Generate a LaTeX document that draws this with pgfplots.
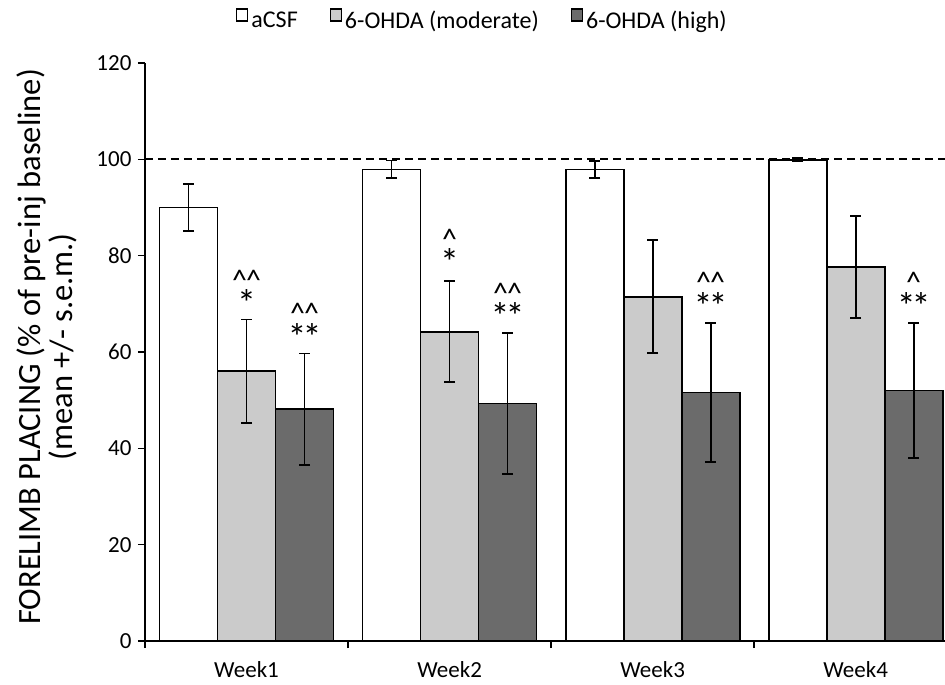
\documentclass[border=0pt]{standalone}
\usepackage{pgfplots}
\pgfplotsset{compat=1.18}
\usepackage{fontspec}
\setmainfont{Carlito}
\definecolor{modgray}{HTML}{CBCBCB}
\definecolor{highgray}{HTML}{6B6B6B}
\newcommand{\fs}[1]{\fontsize{#1}{#1}\selectfont}
\newcommand{\sig}[2]{\makebox[0pt][c]{\fs{38}#2}\makebox[0pt][c]{\raisebox{26.5pt}{\fs{30}#1}}}
\newcommand{\twocar}{\textasciicircum\kern-1pt\textasciicircum}
\newcommand{\twoast}{*\kern-4pt*}
\tikzset{sg/.style={anchor=base, inner sep=0pt}}
\begin{document}
\begin{tikzpicture}
\begin{axis}[
  scale only axis, width=800pt, height=578pt,
  xmin=-0.5, xmax=3.44, ymin=0, ymax=120,
  axis x line*=bottom, axis y line*=left,
  clip=false,
  ybar, bar width=0.2857,
  ytick={0,20,...,120},
  xtick={0,1,2,3}, xticklabels={Week1,Week2,Week3,Week4},
  major x tick style={draw=none},
  minor xtick={-0.5,0.5,1.5,2.5},
  tick align=outside,
  major tick length=7pt, minor tick length=7pt,
  every tick/.style={black, line width=1.5pt},
  axis line style={black, line width=1.5pt},
  /pgf/number format/assume math mode=true,
  yticklabel style={font=\fs{23}, xshift=-3pt},
  xticklabel style={font=\fs{23}, yshift=-10pt},
  ylabel={FORELIMB PLACING (\% of pre-inj baseline)\\(mean +/- s.e.m.)},
  ylabel style={font=\fontsize{32.5}{32}\selectfont, align=center, at={(axis description cs:-0.123,0.509)}, anchor=center},
  legend columns=3,
  legend style={at={(0.4225,1.0744)}, anchor=center, draw=none, font=\fs{24},
    /tikz/every even column/.append style={column sep=29pt},
    nodes={inner xsep=3pt}},
  legend image code/.code={\draw[#1, line width=1.2pt, draw=black] (0pt,-1pt) rectangle (11pt,11pt);},
  error bars/y dir=both, error bars/y explicit,
  error bars/error bar style={black, line width=1.8pt},
  error bars/error mark options={rotate=90, mark size=5.5pt, line width=1.8pt, black},
]
\addplot[black, dashed, dash pattern=on 8pt off 5pt, line width=1.7pt, sharp plot, forget plot, mark=none] coordinates {(-0.5,100) (3.44,100)};
\addplot[bar shift=-0.2857, fill=white, draw=black, line width=1.8pt] coordinates {
  (0,90.0) +- (0,4.9)
  (1,97.9) +- (0,1.85)
  (2,97.9) +- (0,1.7)
  (3,99.9) +- (0,0.3)
};
\addplot[bar shift=0, fill=modgray, draw=black, line width=1.8pt] coordinates {
  (0,56.0) +- (0,10.75)
  (1,64.2) +- (0,10.5)
  (2,71.5) +- (0,11.7)
  (3,77.7) +- (0,10.6)
};
\addplot[bar shift=0.2857, fill=highgray, draw=black, line width=1.8pt] coordinates {
  (0,48.1) +- (0,11.6)
  (1,49.3) +- (0,14.7)
  (2,51.6) +- (0,14.4)
  (3,52.0) +- (0,14.0)
};
\legend{aCSF,6-OHDA (moderate),6-OHDA (high)}
\coordinate (bl) at (rel axis cs:0,0);
\node[sg] at (axis cs:0,67.3) {\sig{\twocar}{*}};
\node[sg] at (axis cs:0.2857,60.4) {\sig{\twocar}{\twoast}};
\node[sg] at (axis cs:1,75.8) {\sig{\textasciicircum}{*}};
\node[sg] at (axis cs:1.2857,64.6) {\sig{\twocar}{\twoast}};
\node[sg] at (axis cs:2.2857,66.8) {\sig{\twocar}{\twoast}};
\node[sg] at (axis cs:3.2857,66.8) {\sig{\textasciicircum}{\twoast}};
\end{axis}
\pgfresetboundingbox
\path[use as bounding box] (bl) ++(-145pt,-44pt) rectangle ++(945pt,685pt);
\end{tikzpicture}
\end{document}
